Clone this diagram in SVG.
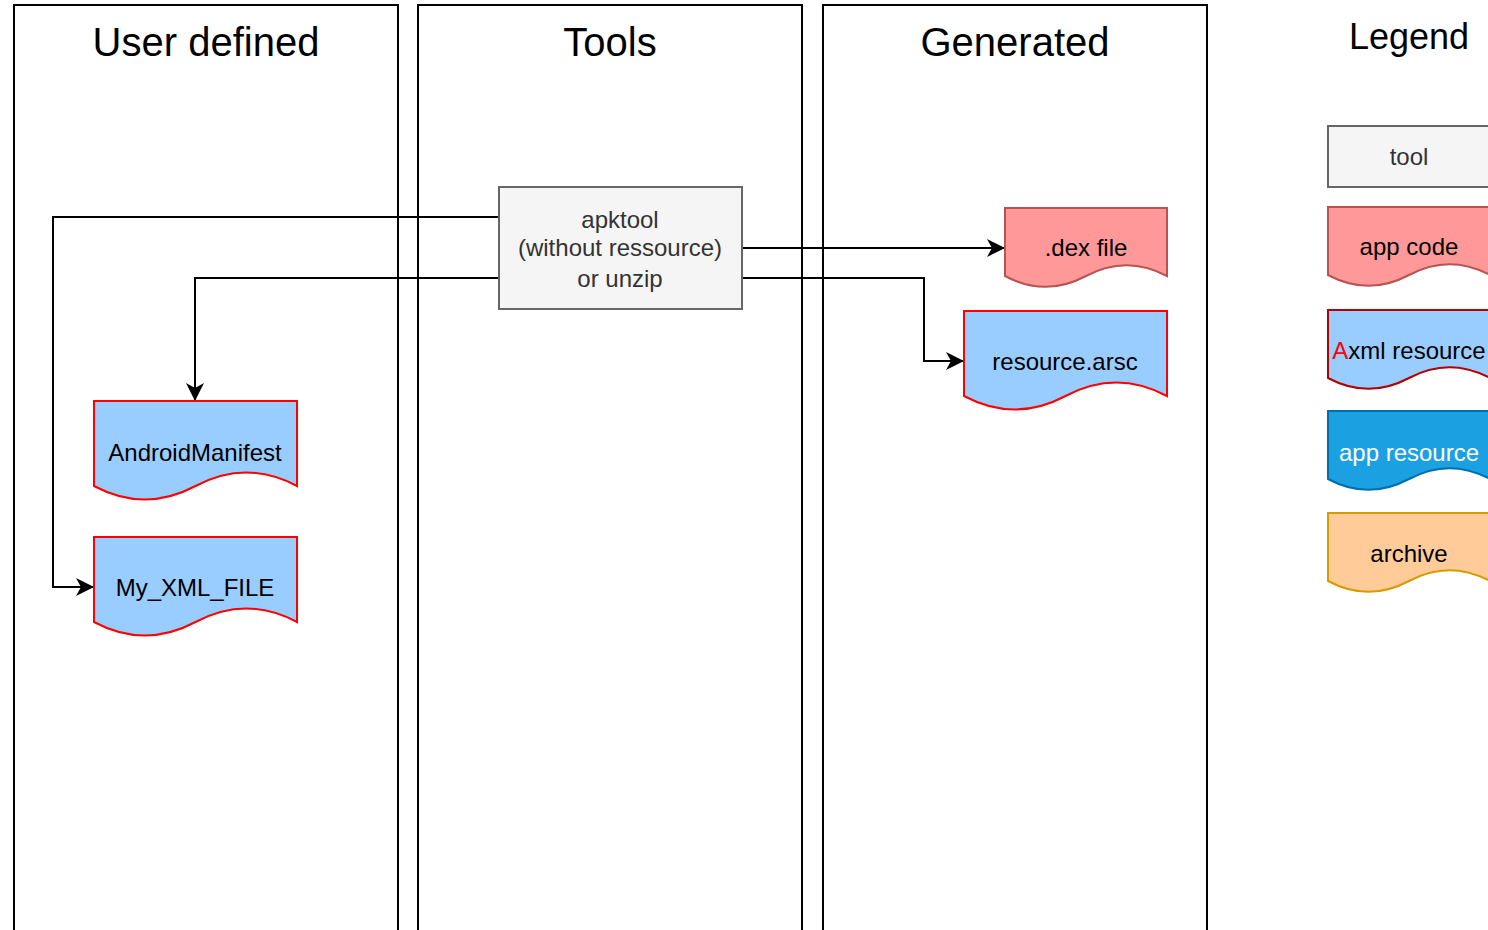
<svg xmlns="http://www.w3.org/2000/svg" width="1488" height="930" viewBox="0 0 1488 930">
  <style>
    .lane { fill: #ffffff; stroke: #000000; stroke-width: 2; }
    .title { font-family: "Liberation Sans", Arial, sans-serif; font-size: 40px; fill: #000000; text-anchor: middle; }
    .label { font-family: "Liberation Sans", Arial, sans-serif; font-size: 24px; fill: #000000; text-anchor: middle; }
    .tool { fill: #f5f5f5; stroke: #666666; stroke-width: 2; }
    .tooltext { fill: #333333; }
    .code { fill: #ff9999; stroke: #b85450; stroke-width: 2; }
    .axml { fill: #99ccff; stroke: #ff0000; stroke-width: 2; }
    .axml-legend { fill: #99ccff; stroke: #b20000; stroke-width: 2; }
    .res { fill: #1ba1e2; stroke: #006eaf; stroke-width: 2; }
    .arch { fill: #ffcc99; stroke: #d79b00; stroke-width: 2; }
    .edge { fill: none; stroke: #000000; stroke-width: 2; }
  </style>
  <defs>
    <marker id="arrow" markerUnits="userSpaceOnUse" markerWidth="19" markerHeight="19" refX="18" refY="9" orient="auto">
      <path d="M0,0 L18,9 L0,18 L5,9 Z" fill="#000000"/>
    </marker>
  </defs>

  <rect width="1488" height="930" fill="#ffffff"/>

  <!-- swimlanes -->
  <g id="lane-user">
    <rect class="lane" x="14" y="5" width="384" height="940"/>
    <text class="title" x="206" y="56">User defined</text>
  </g>
  <g id="lane-tools">
    <rect class="lane" x="418" y="5" width="384" height="940"/>
    <text class="title" x="610" y="56">Tools</text>
  </g>
  <g id="lane-generated">
    <rect class="lane" x="823" y="5" width="384" height="940"/>
    <text class="title" x="1015" y="56">Generated</text>
  </g>

  <!-- connectors -->
  <g id="connectors">
    <path class="edge" d="M499,217 H53 V587 H94" marker-end="url(#arrow)"/>
    <path class="edge" d="M499,278 H195 V401" marker-end="url(#arrow)"/>
    <path class="edge" d="M742,248 H1005" marker-end="url(#arrow)"/>
    <path class="edge" d="M742,278 H924 V361 H964" marker-end="url(#arrow)"/>
  </g>

  <!-- tool -->
  <g id="apktool">
    <rect class="tool" x="499" y="187" width="243" height="122"/>
    <text class="label tooltext" x="620" y="228">apktool</text>
    <text class="label tooltext" x="620" y="256">(without ressource)</text>
    <text class="label tooltext" x="620" y="287">or unzip</text>
  </g>

  <!-- generated files -->
  <g id="dex-file">
    <path class="code" d="M1005,208 H1167 V276 Q1126.5,254.4 1086,276 Q1045.5,297.6 1005,276 Z"/>
    <text class="label" x="1086" y="256">.dex file</text>
  </g>
  <g id="resource-arsc">
    <path class="axml" d="M964,311 H1167 V396 Q1116.25,369 1065.5,396 Q1014.75,423 964,396 Z"/>
    <text class="label" x="1065" y="370">resource.arsc</text>
  </g>

  <!-- user defined files -->
  <g id="android-manifest">
    <path class="axml" d="M94,401 H297 V486 Q246.25,459 195.5,486 Q144.75,513 94,486 Z"/>
    <text class="label" x="195" y="461">AndroidManifest</text>
  </g>
  <g id="my-xml-file">
    <path class="axml" d="M94,537 H297 V622 Q246.25,595 195.5,622 Q144.75,649 94,622 Z"/>
    <text class="label" x="195" y="596">My_XML_FILE</text>
  </g>

  <!-- legend -->
  <g id="legend">
    <text class="title" x="1409" y="49" style="font-size:36px">Legend</text>
  </g>
  <g id="legend-tool">
    <rect class="tool" x="1328" y="126" width="162" height="61"/>
    <text class="label tooltext" x="1409" y="165">tool</text>
  </g>
  <g id="legend-app-code">
    <path class="code" d="M1328,207 H1490 V275 Q1449.5,253.4 1409,275 Q1368.5,296.6 1328,275 Z"/>
    <text class="label" x="1409" y="255">app code</text>
  </g>
  <g id="legend-axml">
    <path class="axml-legend" d="M1328,310 H1490 V378 Q1449.5,356.4 1409,378 Q1368.5,399.6 1328,378 Z"/>
    <text class="label" x="1409" y="359"><tspan fill="#ff0000">A</tspan>xml resource</text>
  </g>
  <g id="legend-app-resource">
    <path class="res" d="M1328,411 H1490 V479 Q1449.5,457.4 1409,479 Q1368.5,500.6 1328,479 Z"/>
    <text class="label" x="1409" y="461" style="fill:#ffffff">app resource</text>
  </g>
  <g id="legend-archive">
    <path class="arch" d="M1328,513 H1490 V581 Q1449.5,559.4 1409,581 Q1368.5,602.6 1328,581 Z"/>
    <text class="label" x="1409" y="562">archive</text>
  </g>
</svg>
